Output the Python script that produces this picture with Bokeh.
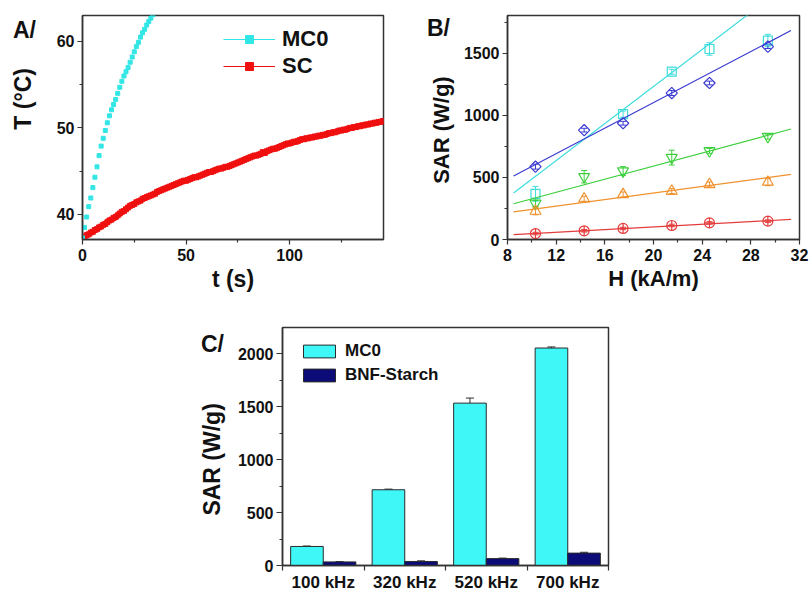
import math
from bokeh.plotting import figure
from bokeh.layouts import column, row
from bokeh.models import (FixedTicker, Label, Legend, LegendItem, Whisker,
                          ColumnDataSource, TeeHead, Range1d)
from bokeh.embed import file_html
from bokeh.resources import INLINE

FONT = "Liberation Sans"
AX = "#333333"
TXT = "#111111"

# ---------------- Panel A data ----------------
t_mc0 = list(range(35))
T_mc0 = [37.3, 38.5, 39.7, 40.9, 41.9, 43.1, 44.3, 45.5, 46.8, 47.9,
         48.8, 49.7, 50.6, 51.4, 52.1, 52.7, 53.3, 54.0, 54.7, 55.4,
         56.0, 56.5, 57.0, 57.6, 58.2, 58.8, 59.4, 59.9, 60.5, 61.0,
         61.4, 61.9, 62.3, 62.7, 63.1]
t_sc = list(range(146))
T_sc = [37.2, 37.4, 37.6, 37.7, 37.9, 38.0, 38.2, 38.3, 38.5, 38.6,
        38.8, 38.9, 39.1, 39.3, 39.4, 39.6, 39.7, 39.9, 40.1, 40.3,
        40.4, 40.6, 40.8, 41.0, 41.1, 41.2, 41.4, 41.5, 41.6, 41.8,
        41.9, 42.0, 42.1, 42.2, 42.3, 42.4, 42.6, 42.7, 42.8, 42.9,
        43.0, 43.1, 43.2, 43.3, 43.4, 43.5, 43.6, 43.7, 43.8, 43.9,
        43.9, 44.0, 44.1, 44.2, 44.3, 44.3, 44.4, 44.5, 44.6, 44.7,
        44.8, 44.9, 44.9, 45.0, 45.1, 45.2, 45.3, 45.3, 45.4, 45.5,
        45.5, 45.6, 45.7, 45.8, 45.9, 46.0, 46.1, 46.2, 46.3, 46.4,
        46.5, 46.6, 46.7, 46.8, 46.8, 46.9, 47.0, 47.2, 47.1, 47.3,
        47.4, 47.5, 47.6, 47.6, 47.7, 47.8, 47.9, 48.0, 48.1, 48.2,
        48.2, 48.3, 48.4, 48.4, 48.5, 48.6, 48.7, 48.7, 48.8, 48.8,
        48.9, 48.9, 49.0, 49.0, 49.1, 49.1, 49.2, 49.2, 49.3, 49.4,
        49.4, 49.5, 49.5, 49.6, 49.7, 49.7, 49.8, 49.8, 49.9, 50.0,
        50.0, 50.1, 50.1, 50.2, 50.2, 50.3, 50.3, 50.4, 50.4, 50.5,
        50.5, 50.6, 50.6, 50.7, 50.7, 50.8]
a_xticks = [0, 50, 100]
a_xminor = [25, 75, 125]
a_yticks = [40, 50, 60]
a_yminor = [45, 55]

# ---------------- Panel B data ----------------
H_all = [10.3, 14.3, 17.5, 21.5, 24.6, 29.4]
H_cyan = [10.3, 17.5, 21.5, 24.6, 29.4]
sar_cyan = [368, 1010, 1352, 1535, 1603]
err_cyan = [60, 25, 20, 50, 50]
sar_blue = [587, 881, 937, 1180, 1261, 1554]
err_blue = [20, 15, 15, 20, 15, 15]
sar_green = [291, 506, 552, 660, 714, 829]
err_green = [25, 50, 35, 60, 20, 20]
sar_orange = [229, 328, 363, 390, 444, 463]
err_orange = [30, 20, 20, 20, 20, 30]
sar_red = [48, 70, 89, 113, 134, 148]
err_red = [10, 10, 10, 10, 10, 10]
fit_slope = [74.6, 51.4, 26.4, 13.2, 5.35]
fit_intercept = [-259, 75, 64, 111, -5.5]
fit_H = [8.5, 31.3]
b_xticks = [8, 12, 16, 20, 24, 28, 32]
b_xminor = [10, 14, 18, 22, 26, 30]
b_yticks = [0, 500, 1000, 1500]
b_yminor = [250, 750, 1250, 1750]

# ---------------- Panel C data ----------------
freq_labels = ["100 kHz", "320 kHz", "520 kHz", "700 kHz"]
sar_mc0_bar = [180, 716, 1535, 2056]
err_mc0_bar = [4, 6, 48, 10]
sar_bnf_bar = [34, 38, 65, 117]
err_bnf_bar = [3, 6, 5, 8]
c_yticks = [0, 500, 1000, 1500, 2000]
c_yminor = [250, 750, 1250, 1750]


def style(p, tick_size="16px", label_size="22px"):
    p.xgrid.visible = False
    p.ygrid.visible = False
    p.outline_line_color = AX
    p.outline_line_width = 1.5
    for ax in (p.xaxis[0], p.yaxis[0]):
        ax.axis_line_color = AX
        ax.axis_line_width = 1.5
        ax.major_tick_line_color = AX
        ax.minor_tick_line_color = AX
        ax.major_tick_line_width = 1.2
        ax.minor_tick_line_width = 1.2
        ax.major_tick_in = 0
        ax.major_tick_out = 5
        ax.minor_tick_in = 0
        ax.minor_tick_out = 3
        ax.major_label_text_font = FONT
        ax.major_label_text_font_style = "bold"
        ax.major_label_text_font_size = tick_size
        ax.major_label_text_color = TXT
        ax.axis_label_text_font = FONT
        ax.axis_label_text_font_style = "bold"
        ax.axis_label_text_font_size = label_size
        ax.axis_label_text_color = TXT


def text_panel(w, h):
    q = figure(width=w, height=h, x_range=Range1d(0, w), y_range=Range1d(h, 0),
               x_axis_type=None, y_axis_type=None, min_border=0,
               min_border_left=0, min_border_right=0, min_border_top=0, min_border_bottom=0,
               output_backend="svg", toolbar_location=None)
    q.outline_line_color = None
    q.xgrid.visible = False
    q.ygrid.visible = False
    return q


def add_text(q, text, x, y, size, rotated=False):
    if rotated:
        q.add_layout(Label(x=x, y=y, text=text, angle=math.pi / 2,
                           text_align="center", text_baseline="middle",
                           text_font=FONT, text_font_style="bold",
                           text_font_size=size, text_color=TXT))
    else:
        q.add_layout(Label(x=x, y=y, text=text, text_align="left",
                           text_baseline="alphabetic",
                           text_font=FONT, text_font_style="bold",
                           text_font_size=size, text_color=TXT))


ROW1_H = 301

# ================= Panel A =================
hA = text_panel(45, ROW1_H)
add_text(hA, "A/", 12.5, 19, "23px")
add_text(hA, "T (°C)", 22, 112, "23px", rotated=True)

pA = figure(frame_width=301, frame_height=224, x_range=(0, 145.3), y_range=(37.1, 63.0),
            min_border_left=37, min_border_right=10, min_border_top=15, min_border_bottom=62,
            output_backend="svg", toolbar_location=None)
style(pA)
pA.xaxis.ticker = FixedTicker(ticks=a_xticks, minor_ticks=a_xminor)
pA.yaxis.ticker = FixedTicker(ticks=a_yticks, minor_ticks=a_yminor)
pA.xaxis.axis_label = "t (s)"
pA.xaxis.axis_label_text_font_size = "23px"
pA.xaxis.major_label_standoff = 4
pA.xaxis.axis_label_standoff = 2
pA.yaxis.major_label_standoff = 3

CYAN = "#33e6e6"
RED = "#f01010"
nan = float("nan")
r_sc = pA.scatter(t_sc, T_sc, marker="square", size=5, color=RED)
r_mc0 = pA.scatter(t_mc0, T_mc0, marker="square", size=4, color=CYAN)
l_mc0 = pA.line(x=[nan], y=[nan], line_color=CYAN, line_width=1.2)
l_sc = pA.line(x=[nan], y=[nan], line_color=RED, line_width=1.2)
legA = Legend(items=[LegendItem(label="MC0", renderers=[l_mc0, r_mc0]),
                     LegendItem(label="SC", renderers=[l_sc, r_sc])],
              location=(141, 160), padding=0, margin=0, spacing=1,
              glyph_width=52, glyph_height=20, label_standoff=7,
              label_text_font=FONT, label_text_font_style="bold",
              label_text_font_size="22px", label_text_color=TXT,
              border_line_alpha=0, background_fill_alpha=0)
pA.add_layout(legA, "center")

# ================= Panel B =================
hB = text_panel(67, ROW1_H)
add_text(hB, "B/", 426.5 - 393, 17, "23px")
add_text(hB, "SAR (W/g)", 441 - 393, 154, "22px", rotated=True)

pB = figure(frame_width=292, frame_height=224, x_range=(8, 32), y_range=(0, 1805),
            min_border_left=45, min_border_right=14, min_border_top=15, min_border_bottom=62,
            output_backend="svg", toolbar_location=None)
style(pB)
pB.xaxis.ticker = FixedTicker(ticks=b_xticks, minor_ticks=b_xminor)
pB.yaxis.ticker = FixedTicker(ticks=b_yticks, minor_ticks=b_yminor)
pB.xaxis.axis_label = "H (kA/m)"
pB.xaxis.major_label_standoff = 4
pB.xaxis.axis_label_standoff = 2
pB.yaxis.major_label_standoff = 3

series = [
    (H_cyan, sar_cyan, err_cyan, "#3fdcdc", "square", 9, 0),
    (H_all, sar_blue, err_blue, "#3a3ad0", "square", 8, math.pi / 4),
    (H_all, sar_green, err_green, "#3ccf3c", "inverted_triangle", 11, 0),
    (H_all, sar_orange, err_orange, "#f0922e", "triangle", 11, 0),
    (H_all, sar_red, err_red, "#e53c3c", "circle_cross", 10, 0),
]
for i, (xs, ys, es, col, mk, sz, ang) in enumerate(series):
    fy = [fit_slope[i] * h + fit_intercept[i] for h in fit_H]
    pB.line(fit_H, fy, line_color=col, line_width=1.2)
    src = ColumnDataSource(dict(x=xs, y=ys,
                                lo=[y - e for y, e in zip(ys, es)],
                                hi=[y + e for y, e in zip(ys, es)]))
    pB.add_layout(Whisker(source=src, base="x", lower="lo", upper="hi",
                          line_color=col, line_width=1,
                          upper_head=TeeHead(size=6, line_color=col, line_width=1),
                          lower_head=TeeHead(size=6, line_color=col, line_width=1)))
    pB.scatter("x", "y", source=src, marker=mk, size=sz, angle=ang, fill_color=None,
               line_color=col, line_width=1.2)

# ================= Panel C =================
ROW2_H = 292
hC = text_panel(230, ROW2_H)
add_text(hC, "C/", 200.5, 20, "23px")
add_text(hC, "SAR (W/g)", 211.7, 162.5, "23px", rotated=True)

pC = figure(frame_width=326, frame_height=238, x_range=(0.5, 4.5), y_range=(0, 2250),
            min_border_left=52, min_border_right=4, min_border_top=26, min_border_bottom=28,
            output_backend="svg", toolbar_location=None)
style(pC)
xs_c = [1, 2, 3, 4]
pC.xaxis.ticker = FixedTicker(ticks=xs_c, minor_ticks=[0.5, 1.5, 2.5, 3.5, 4.5])
pC.xaxis.major_label_overrides = {i: lab for i, lab in zip(xs_c, freq_labels)}
pC.xaxis.major_tick_out = 0
pC.xaxis.minor_tick_out = 5
pC.xaxis.major_label_standoff = 2
pC.xaxis.major_label_text_font_size = "17px"
pC.yaxis.ticker = FixedTicker(ticks=c_yticks, minor_ticks=c_yminor)
pC.yaxis.major_tick_out = 6
pC.yaxis.major_label_standoff = 3

x_mc0 = [x - 0.2 for x in xs_c]
x_bnf = [x + 0.2 for x in xs_c]
b1 = pC.vbar(x=x_mc0, top=sar_mc0_bar, width=0.4, bottom=0,
             fill_color="#3ff7f7", line_color="#2a2a2a", line_width=1)
b2 = pC.vbar(x=x_bnf, top=sar_bnf_bar, width=0.4, bottom=0,
             fill_color="#0c0c78", line_color="#2a2a2a", line_width=1)
for xs, ys, es in ((x_mc0, sar_mc0_bar, err_mc0_bar), (x_bnf, sar_bnf_bar, err_bnf_bar)):
    src = ColumnDataSource(dict(x=xs, lo=ys, hi=[y + e for y, e in zip(ys, es)]))
    pC.add_layout(Whisker(source=src, base="x", lower="lo", upper="hi",
                          line_color="#2a2a2a", line_width=1,
                          upper_head=TeeHead(size=8, line_color="#2a2a2a", line_width=1),
                          lower_head=None))
legC = Legend(items=[LegendItem(label="MC0", renderers=[b1]),
                     LegendItem(label="BNF-Starch", renderers=[b2])],
              location=(17, 180), padding=0, margin=0, spacing=4,
              glyph_width=40, glyph_height=16, label_standoff=6,
              label_text_font=FONT, label_text_font_style="bold",
              label_text_font_size="17px", label_text_color=TXT,
              label_height=20,
              border_line_alpha=0, background_fill_alpha=0)
pC.add_layout(legC, "center")

layout = column(row(hA, pA, hB, pB), row(hC, pC))

open("out.html", "w").write(file_html(layout, INLINE))
